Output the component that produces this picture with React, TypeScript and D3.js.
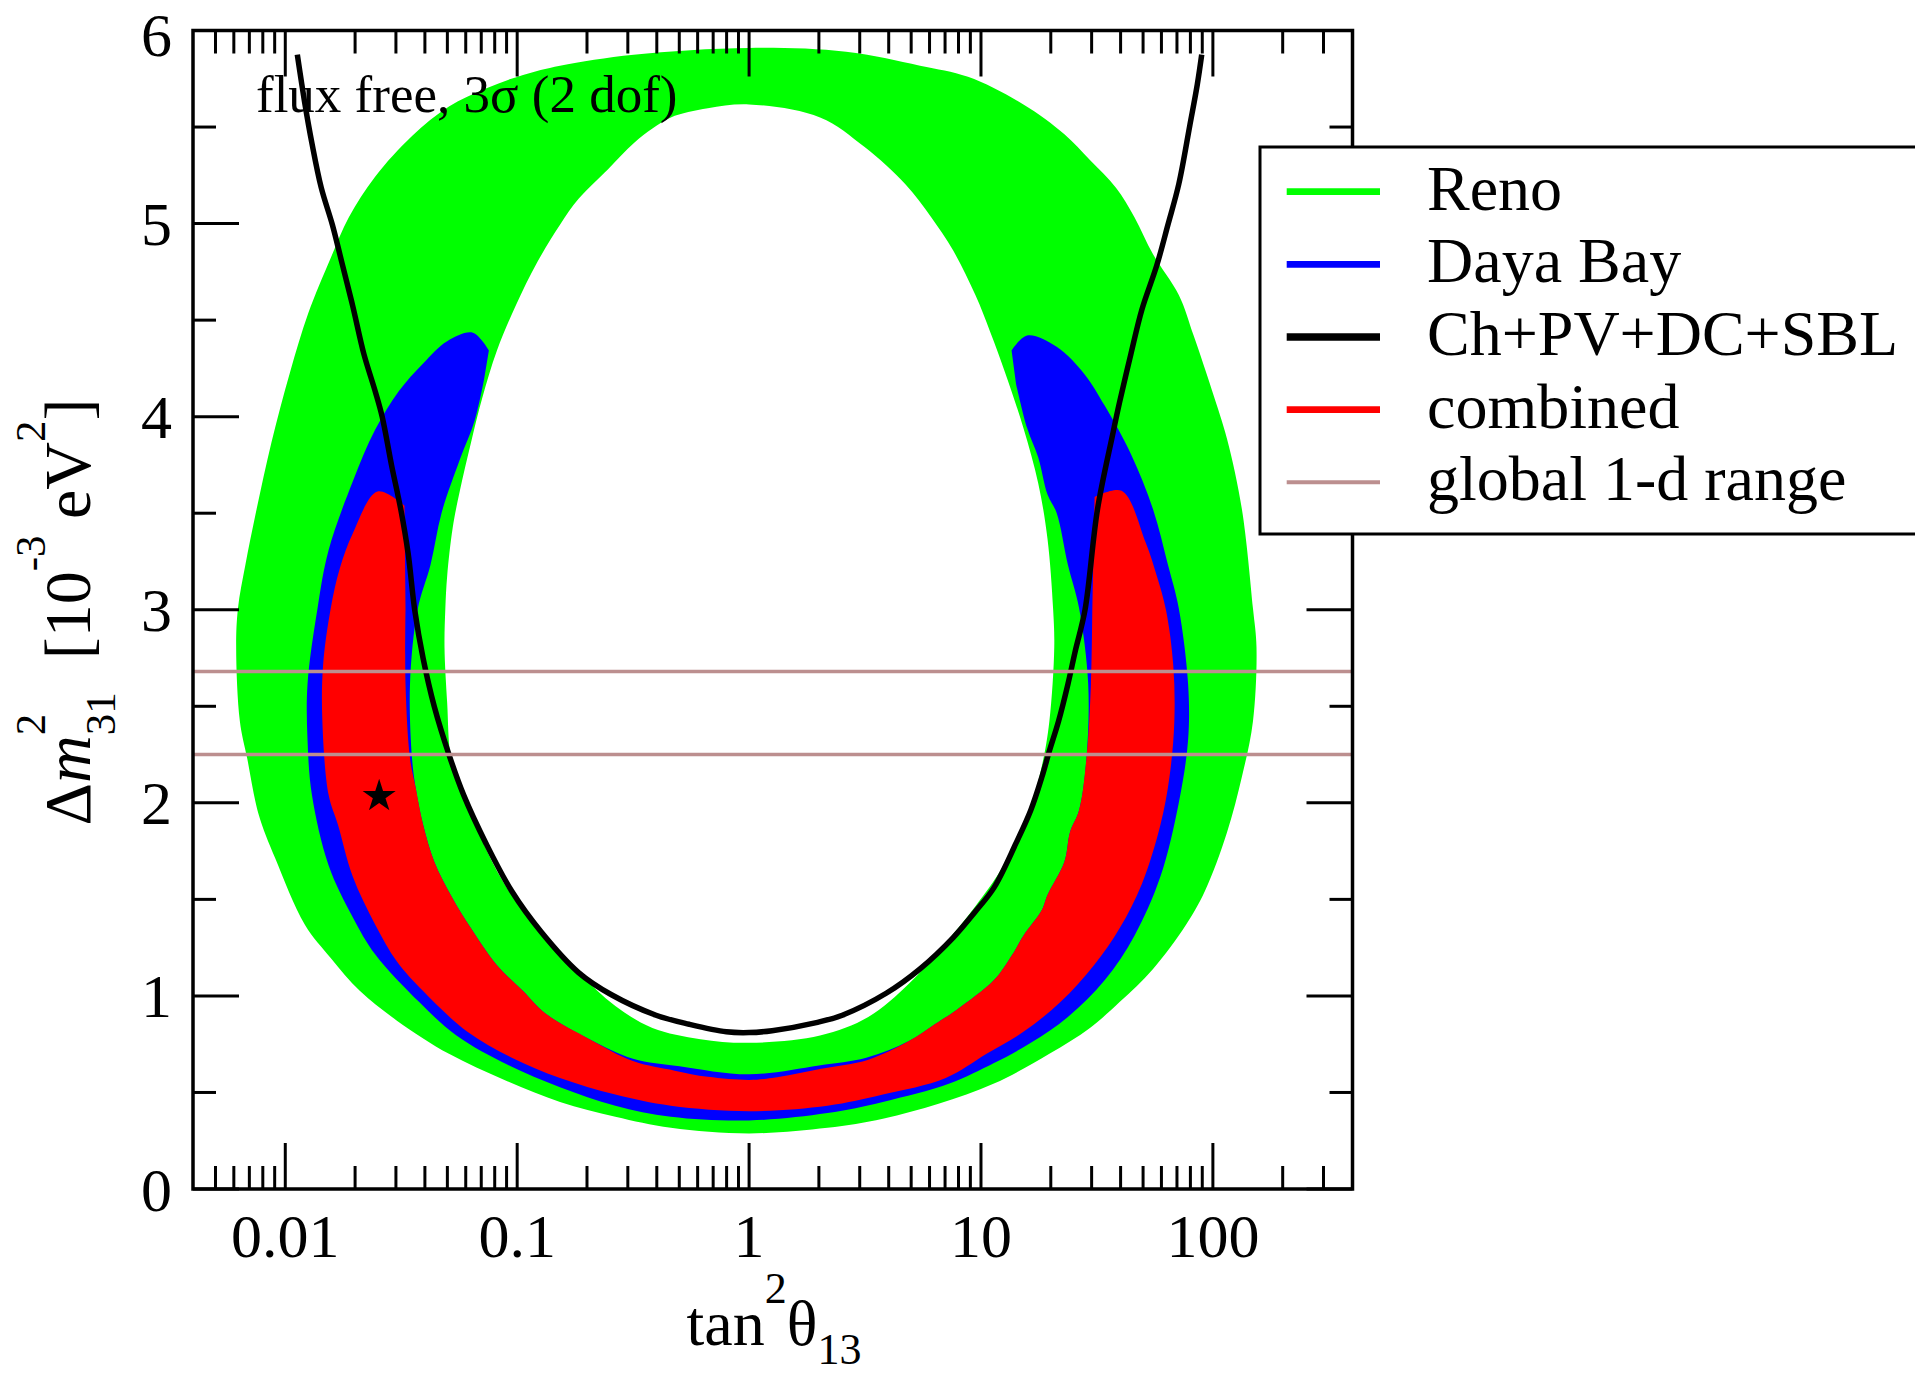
import React from 'react';
import * as d3 from 'd3';

type P = [number, number];

// x: tan^2(theta13), y: Δm²31 [1e-3 eV²]
const renoOuterLeft: P[] = [
  [1.0, 5.91], [0.318, 5.875], [0.153, 5.818], [0.106, 5.77], [0.0733, 5.7], [0.0508, 5.607], [0.0352, 5.454],
  [0.0244, 5.243], [0.0188, 5.033], [0.0157, 4.822], [0.01256, 4.535], [0.01047, 4.228], [0.00871, 3.865],
  [0.00752, 3.52], [0.00673, 3.233], [0.00625, 3.007], [0.00614, 2.806], [0.00637, 2.423], [0.00685, 2.231],
  [0.00766, 1.944], [0.00904, 1.714], [0.01213, 1.37], [0.0157, 1.197], [0.021, 1.025], [0.0303, 0.872],
  [0.0508, 0.7], [0.0881, 0.565], [0.153, 0.451], [0.265, 0.374], [0.46, 0.317], [1.0, 0.288],
];
const renoOuterRight: P[] = [
  [2.178, 0.317], [3.776, 0.364], [6.56, 0.441], [11.38, 0.546], [19.72, 0.7], [29.5, 0.834], [39.6, 0.968],
  [55.2, 1.14], [76.7, 1.37], [92.3, 1.542], [115.1, 1.848], [133.4, 2.135], [148.9, 2.423], [154.2, 2.806],
  [148.9, 3.007], [133.4, 3.52], [115.1, 3.884], [99.3, 4.133], [82.6, 4.42], [71.3, 4.63], [55.2, 4.841],
  [45.9, 5.033], [38.2, 5.186], [29.5, 5.329], [22.9, 5.463], [15.24, 5.617], [8.79, 5.76], [5.46, 5.818],
  [2.62, 5.89],
];
const renoInnerLeft: P[] = [
  [1.0, 5.617], [0.664, 5.597], [0.46, 5.55], [0.383, 5.492], [0.318, 5.416], [0.2466, 5.282], [0.184, 5.128],
  [0.153, 4.994], [0.1225, 4.803], [0.0984, 4.573], [0.0818, 4.343], [0.0706, 4.094], [0.0632, 3.865],
  [0.0566, 3.616], [0.0527, 3.424], [0.0499, 3.175], [0.049, 3.007], [0.0486, 2.806], [0.0499, 2.518],
  [0.0518, 2.231], [0.0566, 2.097], [0.0681, 1.848], [0.0881, 1.58], [0.1225, 1.35], [0.184, 1.121],
  [0.265, 0.948], [0.383, 0.834], [0.617, 0.776], [1.0, 0.757],
];
const renoInnerRight: P[] = [
  [2.023, 0.795], [3.266, 0.891], [4.887, 1.063], [6.81, 1.255], [9.46, 1.465], [12.25, 1.657], [15.85, 1.925],
  [18.32, 2.193], [19.72, 2.423], [20.7, 2.806], [20.46, 3.007], [19.36, 3.367], [17.66, 3.654], [15.24, 3.941],
  [12.71, 4.228], [10.96, 4.439], [9.46, 4.63], [7.59, 4.86], [6.1, 5.033], [4.71, 5.205], [3.15, 5.396],
  [2.023, 5.55],
];

const dayaBayOuter: P[] = [
  [0.0755, 4.343], [0.0644, 4.435], [0.0499, 4.391], [0.0393, 4.276], [0.0309, 4.133], [0.0244, 3.932],
  [0.01954, 3.664], [0.01538, 3.309], [0.01377, 3.007], [0.01247, 2.614], [0.01247, 2.327], [0.01303, 2.04],
  [0.01538, 1.676], [0.01954, 1.408], [0.0244, 1.216], [0.0378, 0.968], [0.0547, 0.795], [0.0914, 0.642],
  [0.153, 0.527], [0.265, 0.431], [0.46, 0.374], [1.0, 0.355], [2.178, 0.393], [3.776, 0.451], [7.31, 0.546],
  [11.38, 0.652], [16.41, 0.757], [23.7, 0.891], [34.2, 1.082], [45.9, 1.312], [59.4, 1.618], [71.3, 2.001],
  [78.2, 2.327], [78.2, 2.614], [71.3, 3.007], [64.0, 3.233], [55.2, 3.52], [44.3, 3.807], [34.2, 4.056],
  [28.0, 4.219], [21.2, 4.362], [15.81, 4.42], [13.55, 4.343],
];
const dayaBayInner: P[] = [
  [14.16, 4.171], [15.81, 3.941], [17.66, 3.788], [19.36, 3.597], [21.2, 3.501], [23.7, 3.233], [26.5, 3.007],
  [29.0, 2.614], [28.5, 2.231], [26.5, 1.963], [24.2, 1.848], [22.9, 1.695], [19.36, 1.523], [18.32, 1.446],
  [15.24, 1.312], [13.68, 1.216], [11.38, 1.082], [7.87, 0.929], [6.32, 0.853], [4.89, 0.766], [3.2, 0.68],
  [2.0, 0.64], [1.0, 0.594], [0.501, 0.636], [0.316, 0.675], [0.205, 0.776], [0.132, 0.91], [0.106, 1.025],
  [0.0818, 1.159], [0.0632, 1.35], [0.0527, 1.504], [0.0439, 1.695], [0.0393, 1.886], [0.0365, 2.078],
  [0.0352, 2.231], [0.0345, 2.614], [0.0372, 3.0], [0.0423, 3.233], [0.0472, 3.501], [0.0566, 3.778],
  [0.0656, 3.98], [0.0719, 4.19],
];

const combinedOuter: P[] = [
  [0.03266, 3.539], [0.025, 3.612], [0.01954, 3.395], [0.01718, 3.214], [0.0157, 3.007], [0.01455, 2.71],
  [0.01445, 2.423], [0.01538, 2.04], [0.01687, 1.886], [0.01954, 1.618], [0.0244, 1.37], [0.0303, 1.178],
  [0.0393, 1.025], [0.061, 0.814], [0.0948, 0.68], [0.153, 0.575], [0.265, 0.489], [0.46, 0.431], [1.0, 0.403],
  [2.178, 0.431], [3.776, 0.489], [7.05, 0.575], [10.57, 0.7], [15.24, 0.814], [22.0, 0.968], [30.7, 1.159],
  [39.6, 1.35], [49.4, 1.58], [59.4, 1.886], [65.0, 2.135], [68.2, 2.423], [67.5, 2.71], [62.8, 2.997],
  [57.3, 3.175], [51.3, 3.348], [40.4, 3.616], [30.9, 3.584],
];
const combinedInner: P[] = [
  [30.2, 2.997], [29.8, 2.614], [28.5, 2.231], [26.5, 1.963], [24.2, 1.848], [22.9, 1.695], [19.36, 1.523],
  [18.32, 1.446], [15.24, 1.312], [13.68, 1.216], [11.38, 1.082], [7.87, 0.929], [6.32, 0.853], [4.89, 0.766],
  [3.27, 0.67], [2.02, 0.622], [1.256, 0.575], [1.0, 0.565], [0.664, 0.581], [0.478, 0.613], [0.318, 0.661],
  [0.205, 0.776], [0.132, 0.91], [0.106, 1.025], [0.0818, 1.159], [0.0632, 1.35], [0.0527, 1.504],
  [0.0439, 1.695], [0.0393, 1.886], [0.0365, 2.078], [0.0345, 2.231], [0.033, 2.614], [0.033, 2.997],
];

const chpvLine: P[] = [
  [0.01127, 5.875], [0.01213, 5.626], [0.01303, 5.416], [0.01429, 5.186], [0.01596, 4.994], [0.0175, 4.803],
  [0.01954, 4.573], [0.02183, 4.324], [0.0244, 4.133], [0.02618, 3.999], [0.02871, 3.75], [0.03148, 3.52],
  [0.03388, 3.29], [0.03614, 3.0], [0.0393, 2.748], [0.0439, 2.499], [0.0508, 2.25], [0.0588, 2.04],
  [0.0733, 1.791], [0.0948, 1.542], [0.127, 1.331], [0.184, 1.121], [0.255, 1.006], [0.397, 0.9],
  [0.552, 0.853], [0.798, 0.814], [1.0, 0.81], [1.256, 0.82], [1.95, 0.862], [2.523, 0.9], [3.917, 1.015],
  [5.46, 1.14], [7.59, 1.302], [9.46, 1.437], [11.38, 1.561], [14.16, 1.791], [16.41, 1.963], [18.32, 2.135],
  [19.72, 2.269], [21.6, 2.423], [23.7, 2.614], [25.5, 2.786], [28.1, 3.0], [31.8, 3.52], [36.9, 3.903],
  [39.6, 4.075], [44.3, 4.324], [49.4, 4.554], [57.3, 4.784], [64.0, 4.994], [71.3, 5.205], [79.6, 5.511],
  [85.7, 5.722], [89.5, 5.875],
];

const globalRange: number[] = [2.25, 2.68];
const bestFit: P = [0.0254, 2.034];

const xMajorTicks: number[] = [0.01, 0.1, 1, 10, 100];
const xTickLabels: string[] = ['0.01', '0.1', '1', '10', '100'];
const yMajorTicks: number[] = [0, 1, 2, 3, 4, 5, 6];
const yMinorTicks: number[] = [0.5, 1.5, 2.5, 3.5, 4.5, 5.5];

const legendItems = [
  { label: 'Reno', color: '#00ff00', width: 6.7 },
  { label: 'Daya Bay', color: '#0000ff', width: 6.7 },
  { label: 'Ch+PV+DC+SBL', color: '#000000', width: 7.3 },
  { label: 'combined', color: '#ff0000', width: 6.7 },
  { label: 'global 1-d range', color: '#bc8f8f', width: 4 },
];

const FONT = "'Liberation Serif', 'Times New Roman', serif";

export default function App() {
  const L = 193, R = 1352.5, T = 30.5, B = 1189;
  const x = d3.scaleLog().domain([0.004, 400]).range([L, R]);
  const y = d3.scaleLinear().domain([0, 6]).range([B, T]);
  const smooth = d3.line<P>().x((d) => x(d[0])).y((d) => y(d[1])).curve(d3.curveCatmullRom.alpha(0.5));
  const loop = d3.line<P>().x((d) => x(d[0])).y((d) => y(d[1])).curve(d3.curveCatmullRomClosed.alpha(0.5));
  // band: outer boundary then inner boundary, joined by straight edges at the arm tips
  const band = (outer: P[], inner: P[]) =>
    (smooth(outer) || '') + (smooth(inner) || '').replace(/^M/, 'L') + 'Z';

  const renoPath = (loop([...renoOuterLeft, ...renoOuterRight]) || '') + (loop([...renoInnerLeft, ...renoInnerRight]) || '');
  const dayaPath = band(dayaBayOuter, dayaBayInner);
  const combPath = band(combinedOuter, combinedInner);
  const chPath = smooth(chpvLine) || '';

  const xMinor = x.ticks().filter((t) => {
    const lg = Math.log10(t);
    return Math.abs(lg - Math.round(lg)) > 1e-6 && t > 0.0041 && t < 399;
  });

  const MAJ = 46, MIN = 23;
  const tickStyle = { stroke: '#000', strokeWidth: 3 };
  const star = d3.symbol().type(d3.symbolStar).size(340)() || '';

  const legTop = 191.7, legStep = 72.65;

  return (
    <svg width={1915} height={1375} style={{ position: 'absolute', left: 0, top: 0, background: '#fff' }}
      fontFamily={FONT}>
      <rect x={0} y={0} width={1915} height={1375} fill="#fff" />
      <path d={renoPath} fill="#00ff00" fillRule="evenodd" />
      <path d={dayaPath} fill="#0000ff" />
      <path d={combPath} fill="#ff0000" />
      <path d={chPath} fill="none" stroke="#000" strokeWidth={5.5} strokeLinejoin="round" />
      {globalRange.map((v, i) => (
        <line key={i} x1={L} x2={R} y1={y(v)} y2={y(v)} stroke="#bc8f8f" strokeWidth={3.5} />
      ))}
      <path d={star} transform={`translate(${x(bestFit[0])},${y(bestFit[1])})`} fill="#000" />
      <text x={256} y={111.7} fontSize={53}>flux free, 3σ (2 dof)</text>

      {/* ticks */}
      {xMajorTicks.map((t, i) => (
        <g key={'xm' + i}>
          <line x1={x(t)} x2={x(t)} y1={B} y2={B - MAJ} {...tickStyle} />
          <line x1={x(t)} x2={x(t)} y1={T} y2={T + MAJ} {...tickStyle} />
          <text x={x(t)} y={1257} fontSize={62} textAnchor="middle">{xTickLabels[i]}</text>
        </g>
      ))}
      {xMinor.map((t, i) => (
        <g key={'xn' + i}>
          <line x1={x(t)} x2={x(t)} y1={B} y2={B - MIN} {...tickStyle} />
          <line x1={x(t)} x2={x(t)} y1={T} y2={T + MIN} {...tickStyle} />
        </g>
      ))}
      {yMajorTicks.map((v, i) => (
        <g key={'ym' + i}>
          <line x1={L} x2={L + MAJ} y1={y(v)} y2={y(v)} {...tickStyle} />
          <line x1={R} x2={R - MAJ} y1={y(v)} y2={y(v)} {...tickStyle} />
          <text x={172} y={Math.max(y(v) + 21.5, 56)} fontSize={62} textAnchor="end">{String(v)}</text>
        </g>
      ))}
      {yMinorTicks.map((v, i) => (
        <g key={'yn' + i}>
          <line x1={L} x2={L + MIN} y1={y(v)} y2={y(v)} {...tickStyle} />
          <line x1={R} x2={R - MIN} y1={y(v)} y2={y(v)} {...tickStyle} />
        </g>
      ))}
      <rect x={L} y={T} width={R - L} height={B - T} fill="none" stroke="#000" strokeWidth={3.5} />

      {/* axis titles */}
      <text x={774} y={1345} fontSize={64} textAnchor="middle">
        tan<tspan fontSize={44} dy={-42}>2</tspan><tspan dy={42}>θ</tspan><tspan fontSize={44} dy={19}>13</tspan>
      </text>
      <text transform="translate(90,612) rotate(-90)" fontSize={66} textAnchor="middle">
        <tspan>Δ</tspan>
        <tspan fontStyle="italic">m</tspan>
        <tspan fontSize={43} dy={-45}>2</tspan>
        <tspan fontSize={43} dx={-21.5} dy={70}>31</tspan>
        <tspan dy={-25}>{'\u00a0\u00a0[10'}</tspan>
        <tspan fontSize={43} dy={-45}>-3</tspan>
        <tspan dy={45}>{'\u00a0eV'}</tspan>
        <tspan fontSize={43} dy={-45}>2</tspan>
        <tspan dy={45}>]</tspan>
      </text>

      {/* legend */}
      <rect x={1260} y={147} width={720} height={387} fill="#fff" stroke="#000" strokeWidth={3} />
      {legendItems.map((it, i) => (
        <g key={'lg' + i}>
          <line x1={1286.7} x2={1380} y1={legTop + i * legStep} y2={legTop + i * legStep}
            stroke={it.color} strokeWidth={it.width} />
          <text x={1427} y={legTop + i * legStep + 18} fontSize={64}>{it.label}</text>
        </g>
      ))}
    </svg>
  );
}
